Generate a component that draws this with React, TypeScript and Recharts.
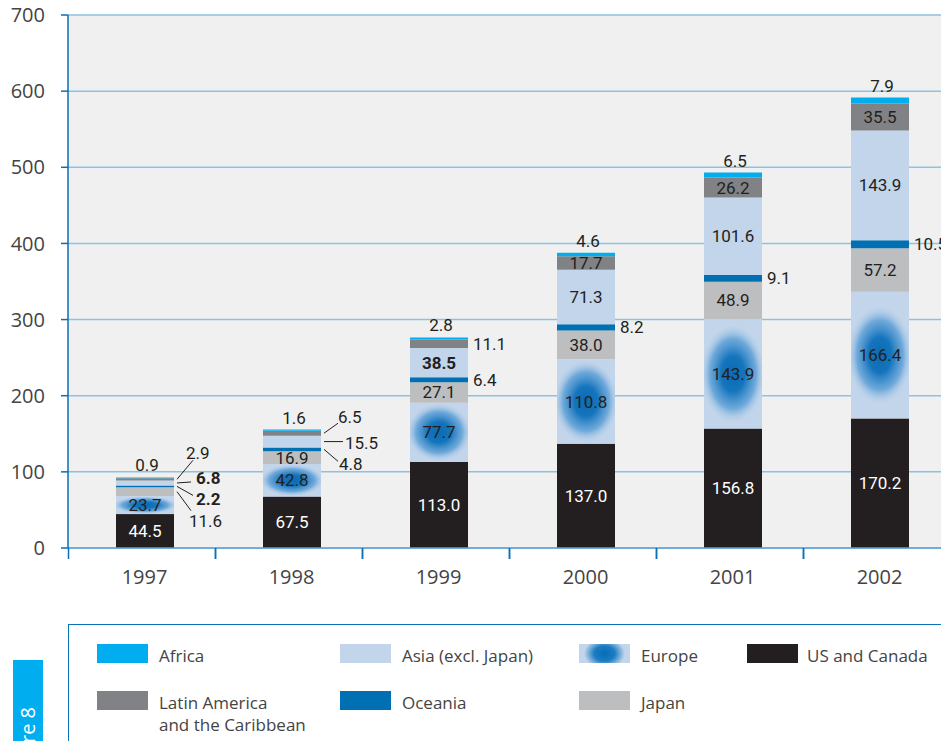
import React from 'react';
import { BarChart, Bar, XAxis, YAxis, CartesianGrid, LabelList } from 'recharts';

// values (stack order: bottom to top)
const years = ['1997', '1998', '1999', '2000', '2001', '2002'];
const usCanada = [44.5, 67.5, 113.0, 137.0, 156.8, 170.2];
const europe = [23.7, 42.8, 77.7, 110.8, 143.9, 166.4];
const japan = [11.6, 16.9, 27.1, 38.0, 48.9, 57.2];
const oceania = [2.2, 4.8, 6.4, 8.2, 9.1, 10.5];
const asia = [6.8, 15.5, 38.5, 71.3, 101.6, 143.9];
const latinAmerica = [2.9, 6.5, 11.1, 17.7, 26.2, 35.5];
const africa = [0.9, 1.6, 2.8, 4.6, 6.5, 7.9];
const yTicks = [0, 100, 200, 300, 400, 500, 600, 700];

const seriesKeys = ['us', 'europe', 'japan', 'oceania', 'asia', 'latam', 'africa'];
const seriesNames: Record<string, string> = {
  us: 'US and Canada',
  europe: 'Europe',
  japan: 'Japan',
  oceania: 'Oceania',
  asia: 'Asia (excl. Japan)',
  latam: 'Latin America\nand the Caribbean',
  africa: 'Africa',
};

const data = years.map((year, i) => ({
  year,
  us: usCanada[i],
  europe: europe[i],
  japan: japan[i],
  oceania: oceania[i],
  asia: asia[i],
  latam: latinAmerica[i],
  africa: africa[i],
}));

const colors: Record<string, string> = {
  us: '#231f20',
  europe: '#c2d5eb',
  japan: '#bcbec0',
  oceania: '#0070b2',
  asia: '#c2d5eb',
  latam: '#808285',
  africa: '#00aeef',
};

// where each value label goes
type Place = 'in' | 'top' | 'right' | 'lead';
const all = (p: Place): Place[] => years.map(() => p);
const placement: Record<string, Place[]> = {
  us: all('in'),
  europe: all('in'),
  japan: ['lead', 'in', 'in', 'in', 'in', 'in'],
  oceania: ['lead', 'lead', 'right', 'right', 'right', 'right'],
  asia: ['lead', 'lead', 'in', 'in', 'in', 'in'],
  latam: ['lead', 'lead', 'right', 'in', 'in', 'in'],
  africa: all('top'),
};
// [line dx, line dy, text dx, text dy] from the bar's right edge / segment middle
const leaders: Record<string, number[]> = {
  'japan-0': [17, 19, 15, 29],
  'oceania-0': [19, 9, 22, 13],
  'asia-0': [17, -1, 22, -5],
  'latam-0': [19, -19, 12, -26],
  'oceania-1': [17, 12, 18, 15],
  'asia-1': [22, 0, 24, 1],
  'latam-1': [17, -10, 17, -16],
};
const boldLabels = ['oceania-0', 'asia-0', 'asia-2'];

const makeLabel = (key: string) => (props: any) => {
  const { x, y, width, height, value, index } = props;
  const mode = placement[key][index];
  const cx = x + width / 2;
  const cy = y + height / 2;
  const right = x + width;
  const text = Number(value).toFixed(1);
  const style = {
    fontFamily: 'Roboto, sans-serif',
    fontSize: 17,
    fontWeight: boldLabels.includes(`${key}-${index}`) ? 700 : 400,
    fill: key === 'us' ? '#ffffff' : '#231f20',
  };
  if (mode === 'in')
    return <text x={cx} y={cy} textAnchor="middle" dominantBaseline="central" {...style}>{text}</text>;
  if (mode === 'top')
    return <text x={cx + 2} y={y - 12} textAnchor="middle" dominantBaseline="central" {...style}>{text}</text>;
  if (mode === 'right')
    return <text x={right + 5} y={cy} textAnchor="start" dominantBaseline="central" {...style}>{text}</text>;
  const [lx, ly, tx, ty] = leaders[`${key}-${index}`];
  return (
    <g>
      <line x1={right + 3} y1={cy} x2={right + lx} y2={cy + ly} stroke="#231f20" strokeWidth={1} />
      <text x={right + tx} y={cy + ty} textAnchor="start" dominantBaseline="central" {...style}>{text}</text>
    </g>
  );
};

const EuropeShape = (props: any) => {
  const { x, y, width, height, index } = props;
  if (!height) return null;
  const id = `eu-${index}`;
  const ry = Math.min(height / 2, 50);
  return (
    <g>
      <defs>
        <clipPath id={`${id}-clip`}>
          <rect x={x} y={y} width={width} height={height} />
        </clipPath>
        <radialGradient id={`${id}-glow`} cx="50%" cy="50%" r="50%">
          <stop offset="0%" stopColor="#0a6cb4" />
          <stop offset="35%" stopColor="#1474bc" />
          <stop offset="70%" stopColor="#5a9ed6" stopOpacity={0.8} />
          <stop offset="100%" stopColor="#c2d5eb" stopOpacity={0} />
        </radialGradient>
      </defs>
      <rect x={x} y={y} width={width} height={height} fill={colors.europe} />
      <ellipse
        cx={x + width / 2}
        cy={y + height / 2}
        rx={width / 2 + 4}
        ry={ry}
        fill={`url(#${id}-glow)`}
        clipPath={`url(#${id}-clip)`}
      />
    </g>
  );
};

const XTick = (props: any) => {
  const { x, y, payload } = props;
  return (
    <g>
      <line x1={x - 76} y1={y} x2={x - 76} y2={y + 11} stroke="#0a6fb5" strokeWidth={1.5} />
      <line x1={x + 71} y1={y} x2={x + 71} y2={y + 11} stroke="#0a6fb5" strokeWidth={1.5} />
      <text x={x} y={y + 28} textAnchor="middle" dominantBaseline="central"
        fontFamily='"Open Sans", sans-serif' fontSize={20} fill="#444">
        {payload.value}
      </text>
    </g>
  );
};

// legend layout: rows of series keys and their column positions
const legendRows = [
  ['africa', 'asia', 'europe', 'us'],
  ['latam', 'oceania', 'japan'],
];
const legendCols = [97, 340, 579, 747];
const legendRowTop = [644, 691];

const Swatch = ({ k }: { k: string }) => (
  <div
    style={{
      width: 51,
      height: 19,
      background:
        k === 'europe'
          ? 'radial-gradient(ellipse 40% 80% at center, #0a6cb4 0%, #1a7cc2 50%, #c2d5eb 100%)'
          : colors[k],
    }}
  />
);

export default function App() {
  return (
    <div style={{ position: 'absolute', left: 0, top: 0, width: 941, height: 741, overflow: 'hidden', background: '#fff' }}>
      <div style={{ position: 'absolute', left: 0, top: 0 }}>
        <BarChart width={965} height={600} data={data} margin={{ top: 15, right: 12, left: 0, bottom: 0 }}>
          <CartesianGrid vertical={false} stroke="#8cc1e3" strokeWidth={1.5} fill="#f0f0f0" />
          <XAxis
            dataKey="year"
            height={52}
            interval={0}
            padding={{ left: 3, right: 0 }}
            axisLine={{ stroke: '#5fa5d6', strokeWidth: 1.5 }}
            tickLine={false}
            tickSize={0}
            tickMargin={0}
            tick={<XTick />}
          />
          <YAxis
            width={68}
            domain={[0, 700]}
            ticks={yTicks}
            interval={0}
            axisLine={{ stroke: '#0a6fb5', strokeWidth: 1.5 }}
            tickLine={{ stroke: '#0a6fb5', strokeWidth: 1.5 }}
            tickSize={7}
            tickMargin={16}
            tick={{ fill: '#444', fontSize: 20, fontFamily: '"Open Sans", sans-serif' }}
          />
          {seriesKeys.map((k) => (
            <Bar
              key={k}
              dataKey={k}
              name={seriesNames[k]}
              stackId="a"
              barSize={58}
              fill={colors[k]}
              shape={k === 'europe' ? <EuropeShape /> : undefined}
              isAnimationActive={false}
            >
              <LabelList dataKey={k} content={makeLabel(k)} />
            </Bar>
          ))}
        </BarChart>
      </div>

      {/* legend box */}
      <div
        style={{
          position: 'absolute',
          left: 68,
          top: 624,
          width: 920,
          height: 200,
          border: '1.5px solid #0a72b8',
        }}
      />
      {legendRows.map((row, r) =>
        row.map((k, c) => (
          <div
            key={k}
            style={{ position: 'absolute', left: legendCols[c], top: legendRowTop[r], display: 'flex', alignItems: 'flex-start' }}
          >
            <Swatch k={k} />
            <div
              style={{
                marginLeft: k === 'us' ? 9 : 11,
                marginTop: 1,
                fontFamily: '"Open Sans", sans-serif',
                fontSize: 17,
                lineHeight: '22px',
                color: '#444',
                whiteSpace: 'pre',
              }}
            >
              {seriesNames[k]}
            </div>
          </div>
        ))
      )}

      {/* figure tab */}
      <svg style={{ position: 'absolute', left: 13, top: 660 }} width={30} height={81}>
        <rect x={0} y={0} width={30} height={81} fill="#00aeef" />
        <text transform="translate(22, 47) rotate(-90)" textAnchor="end"
          fontFamily='"Open Sans", sans-serif' fontSize={20} fill="#fff">
          Figure 8
        </text>
      </svg>
    </div>
  );
}
